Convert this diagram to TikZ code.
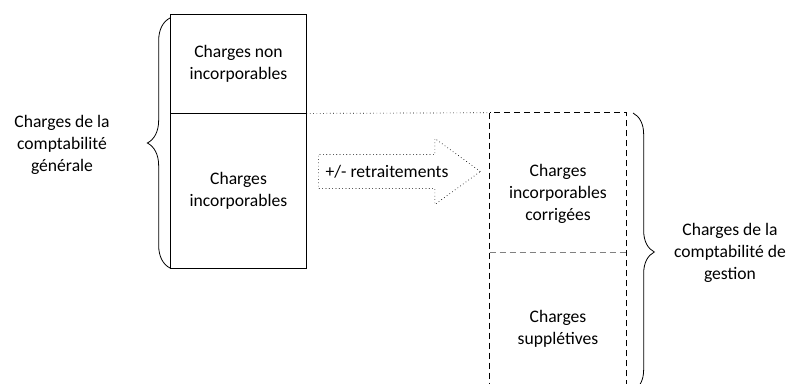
\documentclass[tikz,border=0pt]{standalone}
\usepackage{fontspec}
\setmainfont{Carlito}
\usetikzlibrary{shapes.arrows,decorations.pathreplacing}
\tikzset{
  box/.style={draw, line width=0.6pt, minimum width=101.5pt, align=center, inner sep=0pt},
  dbox/.style={minimum width=102pt, align=center, inner sep=0pt},
  txt/.style={align=center, inner sep=0pt},
  curly/.style={decorate, decoration={brace, amplitude=#1}, line width=0.6pt},
  arrowbox/.style={draw, dotted, line width=0.5pt, single arrow, single arrow head extend=12pt,
    single arrow tip angle=72, inner sep=12.5pt, minimum height=121.5pt, anchor=tail}
}
\begin{document}
\begin{tikzpicture}[x=0.75pt, y=-0.75pt, font=\fontsize{13.2}{16.5}\selectfont]
    \useasboundingbox (0,0) rectangle (793,383);

    % Left column
    \node[box, minimum height=74.25pt] (nonincorp) at (238.5,63.5) {Charges non\\incorporables};
    \node[box, minimum height=116.25pt] (incorp) at (238.5,190.5) {Charges\\incorporables};

    % Right column
    \node[dbox, minimum height=104.25pt] (corr) at (558,182.5) {};
    \node[txt] (corrtxt) at (558,194) {Charges\\incorporables\\corrigées};
    \node[dbox, minimum height=115.5pt] (suppl) at (558,329) {Charges\\supplétives};
    \draw[dashed, line width=0.6pt, dash pattern=on 4.5pt off 3pt] (corr.north west) rectangle (suppl.south east);
    \draw[dashed, line width=0.6pt, dash pattern=on 4.5pt off 3pt, gray] (corr.south west) -- (corr.south east);

    % Link between both columns
    \draw[dotted, line width=0.5pt] (nonincorp.south east) -- (corr.north west);

    % Adjustment arrow
    \node[arrowbox] (adj) at (318,171.5) {};
    \node[txt] (adjtxt) at (387,171.5) {+/- retraitements};

    % Braces and labels
    \draw[curly=17pt] (170,268) -- (170,18);
    \node[txt] (general) at (62,145) {Charges de la\\comptabilité\\générale};
    \draw[curly=16pt] (633,113) -- (633,391);
    \node[txt] (gestion) at (730,253) {Charges de la\\comptabilité de\\gestion};
\end{tikzpicture}
\end{document}
